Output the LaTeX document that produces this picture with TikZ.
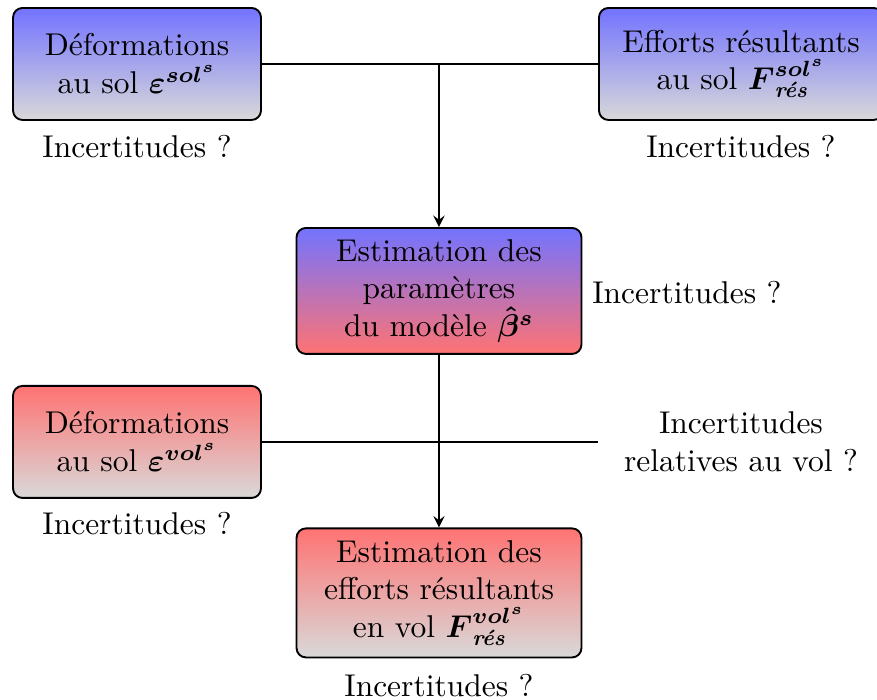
\documentclass[tikz,border=0pt]{standalone}
\usepackage{amsfonts}
\usepackage{amsmath}
\usepackage{tikz}
\usetikzlibrary{positioning, arrows, shapes}
\tikzstyle{arrow} = [semithick,->,>=stealth]

\begin{document}
\begin{tikzpicture}
                    \tikzstyle{every node}=[font=\normalsize]
                    \tikzstyle{solbox} = [rectangle, rounded corners=3pt, draw=black, semithick, align=center, top color=blue!55, bottom color=gray!30]
                    \tikzstyle{estbox} = [rectangle, rounded corners=3pt, draw=black, semithick, align=center, top color=blue!55, bottom color=red!55]
                    \tikzstyle{volbox} = [rectangle, rounded corners=3pt, draw=black, semithick, align=center, top color=red!55, bottom color=gray!30]
                    \tikzstyle{hidden} = [draw=none, align=center]
                    \tikzstyle{edge} = [semithick]

                    \useasboundingbox (0,0) rectangle (9.787,-7.811);
                    \clip (0,0) rectangle (9.787,-7.811);

                    \node[solbox, minimum width=2.767cm, minimum height=1.25cm](defsol) at (1.529,-0.714) {D\'eformations\\au sol $\boldsymbol{\varepsilon^{sol^s}}$};
                    \node[solbox, minimum width=3.169cm, minimum height=1.25cm](effsol) at (8.269,-0.714) {Efforts r\'esultants\\au sol $\boldsymbol{F}^{\boldsymbol{sol^s}}_{\textit{\textbf{r\'es}}}$};
                    \node[estbox, minimum width=3.18cm, minimum height=1.406cm](param) at (4.899,-3.247) {Estimation des\\param\`etres\\du mod\`ele $\boldsymbol{\hat{\beta}^s}$};
                    \node[volbox, minimum width=2.767cm, minimum height=1.25cm](defvol) at (1.529,-4.932) {D\'eformations\\au sol $\boldsymbol{\varepsilon^{vol^s}}$};
                    \node[volbox, minimum width=3.18cm, minimum height=1.44cm](effvol) at (4.899,-6.617) {Estimation des\\efforts r\'esultants\\en vol $\boldsymbol{F}^{\boldsymbol{vol^s}}_{\textit{\textbf{r\'es}}}$};
                    \node[hidden, minimum width=3.169cm](incvol) at (8.269,-4.932) {Incertitudes\\relatives au vol ?};

                    \node[hidden](incdefsol) at (1.529,-1.640) {Incertitudes ?};
                    \node[hidden](inceffsol) at (8.269,-1.640) {Incertitudes ?};
                    \node[hidden](incparam) at (7.666,-3.270) {Incertitudes ?};
                    \node[hidden](incdefvol) at (1.529,-5.847) {Incertitudes ?};
                    \node[hidden](inceffvol) at (4.899,-7.655) {Incertitudes ?};

                    \draw[edge] (defsol) -- (effsol);
                    \draw[arrow] (defsol -| param) -- (param);
                    \draw[edge] (defvol) -- (incvol);
                    \draw[arrow] (param) -- (effvol);

            \end{tikzpicture}
\end{document}
